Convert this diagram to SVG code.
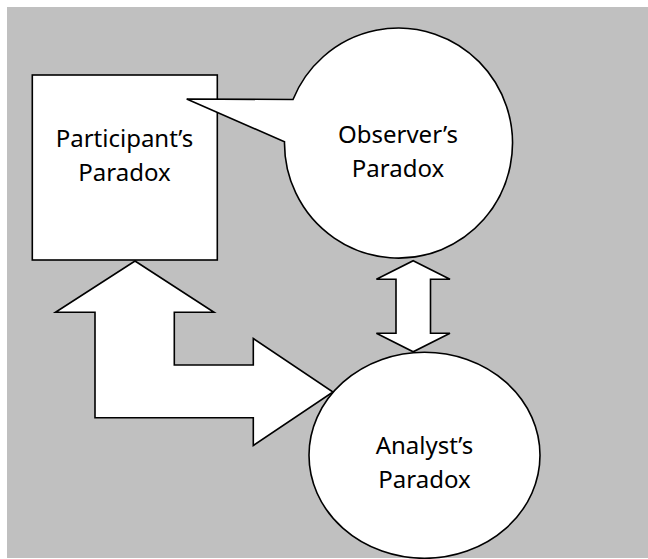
<svg xmlns="http://www.w3.org/2000/svg" width="648" height="559" viewBox="0 0 648 559">
<style>
.shape{fill:#ffffff;stroke:#000000;stroke-width:1.6;stroke-linejoin:miter}
.lbl{font-family:"Noto Sans","Open Sans","Liberation Sans",sans-serif;font-size:24px;fill:#000000;text-anchor:middle}
</style>
<rect x="0" y="0" width="648" height="559" fill="#ffffff"/>
<rect x="7" y="7" width="641" height="551" fill="#c0c0c0"/>
<g id="connectors">
<path class="shape" d="M135,261 L214,312.3 L174.3,312.3 L174.3,365 L253.3,365 L253.3,338.5 L333,392 L253.3,445.5 L253.3,417.7 L95,417.7 L95,312.3 L55.5,312.3 Z"/>
<path class="shape" d="M413.2,260.7 L450,279.3 L430.5,279.3 L430.5,333.3 L450,333.3 L413.2,351.8 L376.4,333.3 L396,333.3 L396,279.3 L376.4,279.3 Z"/>
</g>
<g id="participant">
<rect class="shape" x="32.3" y="75" width="185" height="185"/>
<text class="lbl" x="124.5" y="147.3">Participant’s</text>
<text class="lbl" x="124.5" y="181.3">Paradox</text>
</g>
<g id="observer">
<path class="shape" d="M186.7,99 L293,99.5 A114,115 0 1 1 284.5,141.7 Z"/>
<text class="lbl" x="398" y="143">Observer’s</text>
<text class="lbl" x="398" y="177.3">Paradox</text>
</g>
<g id="analyst">
<ellipse class="shape" cx="424.5" cy="455.3" rx="115.5" ry="103"/>
<text class="lbl" x="424.5" y="454">Analyst’s</text>
<text class="lbl" x="424.5" y="488.3">Paradox</text>
</g>
</svg>
